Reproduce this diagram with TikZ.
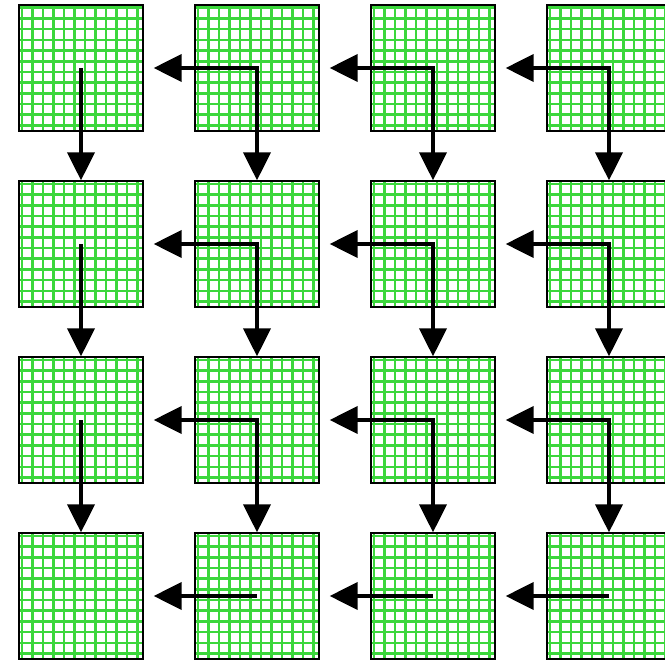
\documentclass[tikz,border=0pt]{standalone}
\usetikzlibrary{arrows.meta}
\definecolor{gridgreen}{RGB}{60,215,60}
\begin{document}
\begin{tikzpicture}[x=1pt,y=-1pt,
  gridline/.style={draw=gridgreen, line width=2.6pt},
  tile/.style={draw=black, line width=1.3pt, minimum width=124pt, minimum height=126pt, inner sep=0pt},
  arr/.style={draw=black, line width=4pt, line join=miter},
  tipb/.style={-{Triangle[length=28pt,width=27pt]}},
  tipbb/.style={{Triangle[length=28pt,width=27pt]}-{Triangle[length=28pt,width=27pt]}}
]
\useasboundingbox (0,0) rectangle (665,661);
\clip (0,0) rectangle (665,661);
\foreach \c in {0,...,3}{
  \foreach \r in {0,...,3}{
    \pgfmathsetmacro{\X}{19+176*\c}
    \pgfmathsetmacro{\Y}{5+176*\r}
    \fill[white] (\X,\Y) rectangle ({\X+124},{\Y+126});
    \foreach \k in {0,...,11}{
      \pgfmathsetmacro{\gx}{\X+2.8+\k*10.5}
      \pgfmathsetmacro{\gy}{\Y+2.8+\k*10.7}
      \draw[gridline] (\gx,\Y) -- (\gx,{\Y+126});
      \draw[gridline] (\X,\gy) -- ({\X+124},\gy);
    }
    \node[tile] (t-\c-\r) at ({\X+62},{\Y+63}) {};
  }
}
\foreach \r in {0,1,2}{
  \pgfmathtruncatemacro{\rn}{\r+1}
  \draw[arr,tipb] (t-0-\r.center) -- (t-0-\rn.north);
  \foreach \c in {1,2,3}{
    \pgfmathtruncatemacro{\cp}{\c-1}
    \draw[arr,tipbb] ([xshift=10pt]t-\cp-\r.east) -- (t-\c-\r.center) -- (t-\c-\rn.north);
  }
}
\foreach \c in {1,2,3}{
  \pgfmathtruncatemacro{\cp}{\c-1}
  \draw[arr,tipb] (t-\c-3.center) -- ([xshift=10pt]t-\cp-3.east);
}
\end{tikzpicture}
\end{document}
